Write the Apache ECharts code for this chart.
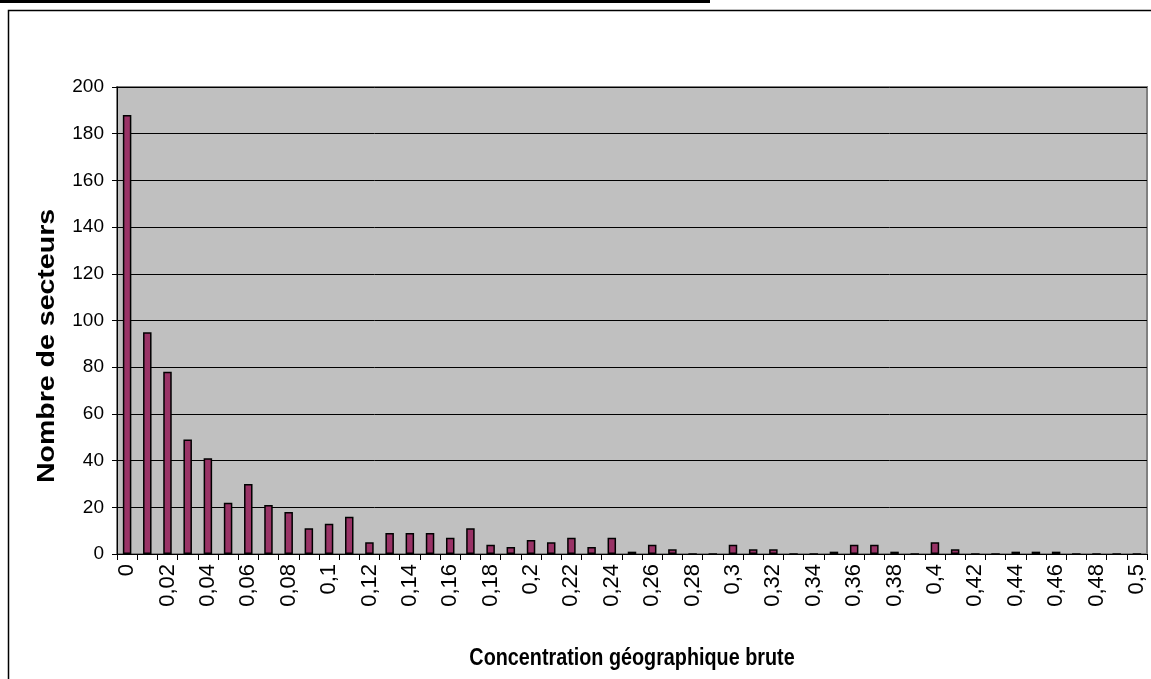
<!DOCTYPE html>
<html>
<head>
<meta charset="utf-8">
<script src="https://cdn.jsdelivr.net/npm/echarts@6/dist/echarts.min.js"></script>
<style>
  html, body { margin: 0; padding: 0; background: #ffffff; }
  #chart { width: 1151px; height: 679px; }
</style>
</head>
<body>
<div id="chart"></div>
<script>
// Classes of raw geographic concentration (step 0.01)
const categories = [
  '0', '0,01', '0,02', '0,03', '0,04', '0,05', '0,06', '0,07', '0,08', '0,09',
  '0,1', '0,11', '0,12', '0,13', '0,14', '0,15', '0,16', '0,17', '0,18', '0,19',
  '0,2', '0,21', '0,22', '0,23', '0,24', '0,25', '0,26', '0,27', '0,28', '0,29',
  '0,3', '0,31', '0,32', '0,33', '0,34', '0,35', '0,36', '0,37', '0,38', '0,39',
  '0,4', '0,41', '0,42', '0,43', '0,44', '0,45', '0,46', '0,47', '0,48', '0,49',
  '0,5'
];

// Number of sectors in each class
const counts = [
  188, 95, 78, 49, 41, 22, 30, 21, 18, 11,
  13, 16, 5, 9, 9, 9, 7, 11, 4, 3,
  6, 5, 7, 3, 7, 1, 4, 2, 0, 0,
  4, 2, 2, 0, 0, 1, 4, 4, 1, 0,
  5, 2, 0, 0, 1, 1, 1, 0, 0, 0,
  0
];

// Value axis ticks
const yTicks = [0, 20, 40, 60, 80, 100, 120, 140, 160, 180, 200];

const xTitle = 'Concentration géographique brute';
const yTitle = 'Nombre de secteurs';

const FONT = "'Liberation Sans', Arial, sans-serif";

const chart = echarts.init(document.getElementById('chart'), null, { renderer: 'canvas' });

chart.setOption({
  animation: false,
  backgroundColor: '#ffffff',
  grid: {
    left: 117, right: 4, top: 87, bottom: 125,
    show: true,
    backgroundColor: '#C0C0C0',
    borderColor: '#808080',
    borderWidth: 2,
    containLabel: false
  },
  xAxis: {
    type: 'category',
    data: categories,
    boundaryGap: true,
    axisLine: { show: true, lineStyle: { color: '#000', width: 1 } },
    axisTick: { show: true, interval: 0, length: 6, lineStyle: { color: '#000', width: 1 } },
    axisLabel: {
      interval: 1,
      rotate: 90,
      margin: 10,
      color: '#000',
      fontFamily: FONT,
      fontSize: 22
    },
    splitLine: { show: false }
  },
  yAxis: {
    type: 'value',
    min: yTicks[0],
    max: yTicks[yTicks.length - 1],
    interval: yTicks[1] - yTicks[0],
    axisLine: { show: true, lineStyle: { color: '#000', width: 1 } },
    axisTick: { show: true, length: 5, lineStyle: { color: '#000', width: 1 } },
    axisLabel: {
      margin: 13,
      color: '#000',
      fontFamily: FONT,
      fontSize: 19
    },
    splitLine: { show: true, lineStyle: { color: '#000', width: 1 } }
  },
  series: [{
    type: 'bar',
    data: counts,
    barWidth: 8.5,
    itemStyle: {
      color: '#993366',
      borderColor: '#000',
      borderWidth: 1.5
    }
  }],
  graphic: [
    // outer frame of the chart object
    {
      type: 'rect',
      shape: { x: 8.5, y: 10.5, width: 1200, height: 700 },
      style: { fill: null, stroke: '#000', lineWidth: 1.5 },
      silent: true, z: 0
    },
    // rule above the frame
    {
      type: 'rect',
      shape: { x: 0, y: 0, width: 710, height: 3 },
      style: { fill: '#000' },
      silent: true
    },
    // value axis title
    {
      type: 'text',
      x: 48, y: 346,
      rotation: Math.PI / 2,
      scaleX: 1.24,
      style: {
        text: yTitle,
        font: 'bold 23px ' + FONT,
        fill: '#000',
        textAlign: 'center',
        textVerticalAlign: 'middle'
      }
    },
    // category axis title
    {
      type: 'text',
      x: 632, y: 659,
      scaleX: 0.86,
      style: {
        text: xTitle,
        font: 'bold 23px ' + FONT,
        fill: '#000',
        textAlign: 'center',
        textVerticalAlign: 'middle'
      }
    }
  ]
});
</script>
</body>
</html>
